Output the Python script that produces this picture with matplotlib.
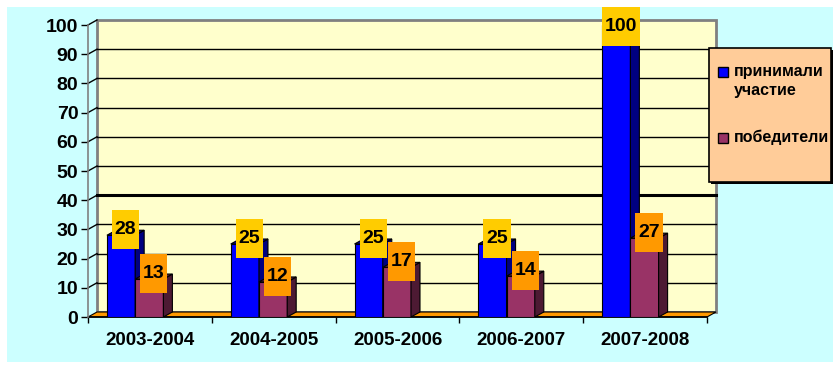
import numpy as np
import matplotlib.pyplot as plt
from matplotlib.patches import Rectangle, Polygon

plt.rcParams['font.family'] = ['Liberation Sans', 'DejaVu Sans']

categories = ['2003-2004', '2004-2005', '2005-2006', '2006-2007', '2007-2008']
participated = [28, 25, 25, 25, 100]
winners = [13, 12, 17, 14, 27]
series_names = ['принимали\nучастие', 'победители']

W, H = 839, 368
fig = plt.figure(figsize=(W / 100, H / 100), dpi=100)
fig.patch.set_facecolor('white')

# cyan chart area
fig.patches.append(Rectangle((7 / W, 6 / H), 826 / W, 355 / H, transform=fig.transFigure,
                             facecolor='#CCFFFF', edgecolor='none', zorder=-5))

# front plot area in pixels: x 88..707, y 317 (0) .. 25 (100)
ax = fig.add_axes([88 / W, (H - 317) / H, 619 / W, 292 / H])
ax.set_facecolor('none')
ax.set_xlim(-0.5, 4.5)
ax.set_ylim(0, 100)
for s in ['top', 'right', 'bottom']:
    ax.spines[s].set_visible(False)
ax.spines['left'].set_color('#808080')
ax.spines['left'].set_linewidth(1.2)

# depth offset (data units)
px_x = 619 / 5.0
px_y = 292 / 100.0
dx = 9 / px_x
dy = 5 / px_y
x0, x1 = -0.5, 4.5

# back wall
wall = Rectangle((x0 + dx, dy), x1 - x0, 100, facecolor='#FFFFCC', edgecolor='#808080',
                 linewidth=2, clip_on=False, zorder=1)
ax.add_patch(wall)
for v in range(10, 100, 10):
    ax.plot([x0 + dx, x1 + dx], [v + dy, v + dy], color='black',
            lw=2.2 if v == 40 else 1.0, clip_on=False, zorder=1.5)
    ax.plot([x0, x0 + dx], [v, v + dy], color='black', lw=1.0, clip_on=False, zorder=1.5)
ax.plot([x0, x0 + dx], [100, 100 + dy], color='black', lw=1.0, clip_on=False, zorder=1.5)

# floor
floor = Polygon([(x0, 0), (x0 + dx, dy), (x1 + dx, dy), (x1, 0)], closed=True,
                facecolor='#FF9900', edgecolor='black', linewidth=0.8, clip_on=False, zorder=2)
ax.add_patch(floor)
ax.plot([x0, x1], [0, 0], color='black', lw=1.2, clip_on=False, zorder=2.1)

bw = 0.228
offsets = [-0.347, -0.119]
front_colors = ['#0000FF', '#993366']
side_colors = ['#000080', '#4D1A33']
top_colors = ['#0000A0', '#5A2040']
label_colors = ['#FFCC00', '#FF9900']
series = [participated, winners]

z = 3
for i in range(len(categories)):
    for k, vals in enumerate(series):
        v = vals[i]
        xl = i + offsets[k]
        xr = xl + bw
        ax.bar(xl, v, width=bw, align='edge', color=front_colors[k], edgecolor='black',
               linewidth=0.8, zorder=z)
        side = Polygon([(xr, 0), (xr + dx, dy), (xr + dx, v + dy), (xr, v)], closed=True,
                       facecolor=side_colors[k], edgecolor='black', linewidth=0.8, zorder=z)
        top = Polygon([(xl, v), (xl + dx, v + dy), (xr + dx, v + dy), (xr, v)], closed=True,
                      facecolor=top_colors[k], edgecolor='black', linewidth=0.8, zorder=z)
        ax.add_patch(side)
        ax.add_patch(top)
        z += 0.1

# data labels
lh_box = 39 / px_y
for i in range(len(categories)):
    for k, vals in enumerate(series):
        v = vals[i]
        lw_box = (len(str(v)) * 10.8 + 5.5) / px_x
        cx = i + offsets[k] + bw / 2 + dx / 2
        cy = min(v + 2, 99.5)
        ax.add_patch(Rectangle((cx - lw_box / 2, cy - lh_box / 2), lw_box, lh_box,
                               facecolor=label_colors[k], edgecolor='none', clip_on=False, zorder=10))
        ax.text(cx, cy, str(v), ha='center', va='center', fontsize=14, fontweight='bold',
                zorder=11, clip_on=False)

# ticks
ax.set_yticks(range(0, 101, 10))
ax.tick_params(axis='y', length=5, width=1, pad=2, labelsize=14, colors='black')
for t in ax.get_yticklabels():
    t.set_fontweight('bold')
ax.set_xticks(range(len(categories)))
ax.set_xticklabels(categories, fontsize=13.5, fontweight='bold')
ax.tick_params(axis='x', length=0, pad=11)
ax.set_xticks(np.arange(-0.5, 5, 1), minor=True)
ax.tick_params(axis='x', which='minor', length=4, width=1, color='black')

# legend
lx, ly, lwid, lht = 709, 48, 122, 134
fig.patches.append(Rectangle(((lx + 2) / W, (H - ly - lht - 2) / H), lwid / W, lht / H,
                             transform=fig.transFigure, facecolor='black', edgecolor='none', zorder=5))
fig.patches.append(Rectangle((lx / W, (H - ly - lht) / H), lwid / W, lht / H,
                             transform=fig.transFigure, facecolor='#FFCC99', edgecolor='black',
                             linewidth=1.2, zorder=6))
entry_y = [72, 138]
for k, name in enumerate(series_names):
    fig.patches.append(Rectangle((718 / W, (H - entry_y[k] - 5) / H), 10 / W, 10 / H,
                                 transform=fig.transFigure, facecolor=front_colors[k],
                                 edgecolor='black', linewidth=1, zorder=7))
    fig.text(734 / W, (H - entry_y[k] + 8) / H, name, ha='left', va='top', fontsize=11.5,
             fontweight='bold', linespacing=1.35, zorder=8)

fig.savefig('out.png', dpi=100)
